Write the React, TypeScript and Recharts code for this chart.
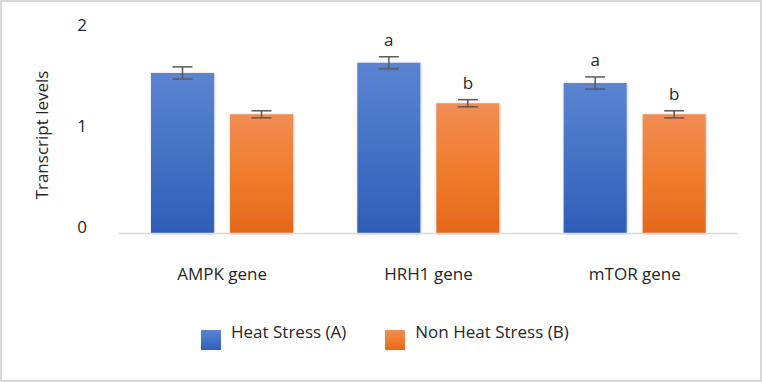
import React from "react";
import { BarChart, Bar, XAxis, YAxis, ErrorBar, Legend, LabelList } from "recharts";

const categories = ["AMPK gene", "HRH1 gene", "mTOR gene"];
const heatStress = [1.59, 1.69, 1.49];
const nonHeatStress = [1.18, 1.29, 1.18];
const heatStressErr = [0.06, 0.06, 0.06];
const nonHeatStressErr = [0.035, 0.035, 0.035];
const heatLetters = ["", "a", "a"];
const nonHeatLetters = ["", "b", "b"];
const yTicks = [0, 1, 2];
const seriesNames = ["Heat Stress (A)", "Non Heat Stress (B)"];

const data = categories.map((name, i) => ({
  name,
  heat: heatStress[i],
  nonHeat: nonHeatStress[i],
  heatErr: heatStressErr[i],
  nonHeatErr: nonHeatStressErr[i],
}));

const FONT = "'Open Sans', 'Noto Sans', sans-serif";
const TEXT = "#262626";

const makeLetterLabel = (letters: string[], errs: number[], vals: number[]) => (props: any) => {
  const vb = props.viewBox && props.viewBox.width !== undefined ? props.viewBox : props;
  const idx = props.index;
  if (idx === undefined || !letters[idx]) return null;
  const x = Number(vb.x);
  const y = Number(vb.y);
  const w = Number(vb.width);
  const h = Number(vb.height);
  const top = h >= 0 ? y : y + h;
  const hAbs = Math.abs(h);
  const pxPerUnit = hAbs / vals[idx];
  const errTop = top - errs[idx] * pxPerUnit;
  return (
    <text x={x + w / 2} y={errTop - 11} textAnchor="middle" fontSize={17} fill={TEXT} fontFamily={FONT}>
      {letters[idx]}
    </text>
  );
};

const XTick = (props: any) => {
  const { x, y, payload } = props;
  return (
    <text x={x} y={y} dy="0.71em" textAnchor="middle" fontSize={17} fill={TEXT} fontFamily={FONT}>
      {payload.value}
    </text>
  );
};

const YTick = (props: any) => {
  const { x, y, payload } = props;
  return (
    <text x={x} y={y - 0.7} textAnchor="end" fontSize={17} fill={TEXT} fontFamily={FONT}>
      {payload.value}
    </text>
  );
};

const YTitle = (props: any) => {
  const vb = props.viewBox || { x: 0, y: 0, width: 0, height: 0 };
  const cx = vb.x + 48;
  const cy = vb.y + vb.height / 2 + 2.5;
  return (
    <text
      transform={`translate(${cx},${cy}) rotate(-90)`}
      textAnchor="middle"
      fontSize={17}
      fill={TEXT}
      fontFamily={FONT}
    >
      Transcript levels
    </text>
  );
};

const legendSwatches = [
  "linear-gradient(#5b84d2, #4472c4 50%, #2e5eb7)",
  "linear-gradient(#f18d55, #f07d2e 50%, #e6671b)",
];

const LegendContent = () => (
  <div style={{ display: "flex", height: 30, fontFamily: FONT, fontSize: 17, color: TEXT }}>
    {seriesNames.map((n, i) => (
      <div key={n} style={{ display: "flex", alignItems: "flex-start", marginRight: i === 0 ? 39 : 0 }}>
        <div style={{ width: 20, height: 20, marginTop: 10, background: legendSwatches[i] }} />
        <span style={{ marginLeft: 10, lineHeight: "23px", whiteSpace: "nowrap" }}>{n}</span>
      </div>
    ))}
  </div>
);

export default function App() {
  return (
    <div style={{ position: "absolute", left: 0, top: 0, width: 762, height: 382, background: "#fff", fontFamily: FONT }}>
      <BarChart
        width={762}
        height={382}
        data={data}
        margin={{ top: 31.5, right: 24, bottom: 0, left: 0 }}
        barCategoryGap={32}
        barGap={16}
        style={{ fontFamily: FONT }}
      >
        <defs>
          <linearGradient id="gBlue" x1="0" y1="0" x2="0" y2="1">
            <stop offset="0%" stopColor="#5b84d2" />
            <stop offset="50%" stopColor="#4472c4" />
            <stop offset="100%" stopColor="#2e5eb7" />
          </linearGradient>
          <linearGradient id="gOrange" x1="0" y1="0" x2="0" y2="1">
            <stop offset="0%" stopColor="#f18d55" />
            <stop offset="50%" stopColor="#f07d2e" />
            <stop offset="100%" stopColor="#e6671b" />
          </linearGradient>
          <filter id="barShadow" x="-10%" y="-10%" width="120%" height="120%">
            <feDropShadow dx="0.5" dy="0.5" stdDeviation="1.2" floodColor="#000" floodOpacity="0.28" />
          </filter>
        </defs>
        <XAxis
          dataKey="name"
          height={118.5}
          tickLine={false}
          tickSize={0}
          tickMargin={34}
          axisLine={{ stroke: "#d9d9d9", strokeWidth: 1.5 }}
          tick={<XTick />}
          interval={0}
        />
        <YAxis
          width={119}
          domain={[0, 2]}
          ticks={yTicks}
          axisLine={false}
          tickLine={false}
          tickSize={0}
          tickMargin={32}
          tick={<YTick />}
          label={<YTitle />}
        />
        <Legend
          verticalAlign="bottom"
          content={<LegendContent />}
          wrapperStyle={{ left: 201, top: 320, bottom: "auto", width: "auto", height: 30 }}
        />
        <Bar dataKey="heat" name={seriesNames[0]} fill="url(#gBlue)" filter="url(#barShadow)" isAnimationActive={false}>
          <ErrorBar dataKey="heatErr" width={10} strokeWidth={1.5} stroke="#595959" direction="y" />
          <LabelList content={makeLetterLabel(heatLetters, heatStressErr, heatStress)} />
        </Bar>
        <Bar dataKey="nonHeat" name={seriesNames[1]} fill="url(#gOrange)" filter="url(#barShadow)" isAnimationActive={false}>
          <ErrorBar dataKey="nonHeatErr" width={10} strokeWidth={1.5} stroke="#595959" direction="y" />
          <LabelList content={makeLetterLabel(nonHeatLetters, nonHeatStressErr, nonHeatStress)} />
        </Bar>
      </BarChart>
      <div
        style={{
          position: "absolute",
          left: 0,
          top: 0,
          width: 758,
          height: 378,
          border: "2px solid #d9d9d9",
          pointerEvents: "none",
        }}
      />
    </div>
  );
}
